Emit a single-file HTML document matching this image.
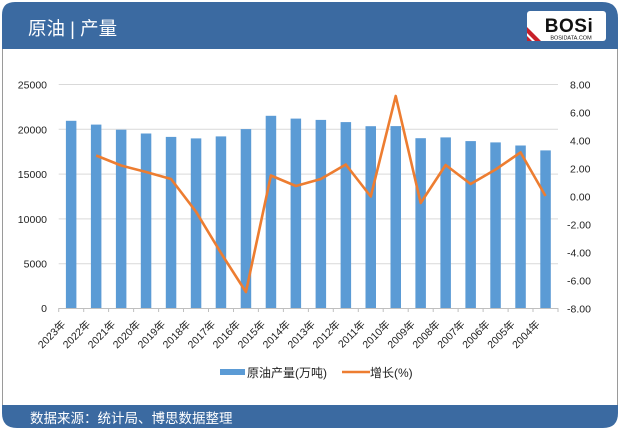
<!DOCTYPE html>
<html><head><meta charset="utf-8"><style>
html,body{margin:0;padding:0;background:#fff;}
svg{display:block;}
text{font-family:"Liberation Sans","Noto Sans CJK SC",sans-serif;}
</style></head><body>
<svg width="621" height="434" viewBox="0 0 621 434" xmlns="http://www.w3.org/2000/svg">
<rect x="0" y="0" width="621" height="434" fill="#fff"/>
<!-- content border -->
<line x1="2.5" y1="45" x2="2.5" y2="410" stroke="#9a9a9a" stroke-width="1"/>
<line x1="617.5" y1="45" x2="617.5" y2="410" stroke="#9a9a9a" stroke-width="1"/>
<!-- header -->
<path d="M2,49 L2,15 Q2,2 15,2 L602,2 Q618,2 618,18 L618,49 Z" fill="#3b6aa1"/>
<text x="28" y="35" font-size="18.5" fill="#fff">原油 | 产量</text>
<!-- logo -->
<rect x="527" y="11" width="79" height="30" rx="3" fill="#fff"/>
<polygon points="527,27 527,41 541,41" fill="#c8202a"/>
<polygon points="527,33 527,41 535,41" fill="#fff"/>
<polygon points="527,36 527,41 532,41" fill="#c8202a"/>
<text x="569" y="32" font-size="19" font-weight="bold" fill="#111" text-anchor="middle" letter-spacing="0.5" font-family="Liberation Sans">BOSi</text>
<text x="571" y="39.5" font-size="5.5" fill="#111" text-anchor="middle" font-family="Liberation Sans">BOSIDATA.COM</text>
<!-- footer -->
<path d="M2,405 L618,405 L618,413 Q618,428 603,428 L17,428 Q2,428 2,413 Z" fill="#3b6aa1"/>
<text x="30" y="423" font-size="13.5" fill="#fff">数据来源：统计局、博思数据整理</text>
<!-- gridlines -->
<g stroke="#d9d9d9" stroke-width="1">
<line x1="58.7" y1="84.5" x2="558" y2="84.5"/>
<line x1="58.7" y1="129.3" x2="558" y2="129.3"/>
<line x1="58.7" y1="174.1" x2="558" y2="174.1"/>
<line x1="58.7" y1="218.9" x2="558" y2="218.9"/>
<line x1="58.7" y1="263.7" x2="558" y2="263.7"/>
</g>
<!-- bars -->
<g fill="#5b9bd5">
<rect x="65.9" y="120.8" width="10.5" height="187.2"/>
<rect x="90.9" y="124.6" width="10.5" height="183.4"/>
<rect x="115.9" y="129.7" width="10.5" height="178.3"/>
<rect x="140.8" y="133.5" width="10.5" height="174.5"/>
<rect x="165.8" y="136.9" width="10.5" height="171.1"/>
<rect x="190.8" y="138.4" width="10.5" height="169.6"/>
<rect x="215.7" y="136.4" width="10.5" height="171.6"/>
<rect x="240.7" y="129.1" width="10.5" height="178.9"/>
<rect x="265.7" y="115.8" width="10.5" height="192.2"/>
<rect x="290.6" y="118.6" width="10.5" height="189.4"/>
<rect x="315.6" y="119.9" width="10.5" height="188.1"/>
<rect x="340.6" y="122.1" width="10.5" height="185.9"/>
<rect x="365.5" y="126.2" width="10.5" height="181.8"/>
<rect x="390.5" y="126.1" width="10.5" height="181.9"/>
<rect x="415.4" y="138.2" width="10.5" height="169.8"/>
<rect x="440.4" y="137.4" width="10.5" height="170.6"/>
<rect x="465.4" y="141.1" width="10.5" height="166.9"/>
<rect x="490.3" y="142.4" width="10.5" height="165.6"/>
<rect x="515.3" y="145.5" width="10.5" height="162.5"/>
<rect x="540.3" y="150.4" width="10.5" height="157.6"/>
</g>
<!-- x axis -->
<g stroke="#bfbfbf" stroke-width="1">
<line x1="58.7" y1="308.5" x2="558" y2="308.5"/>
<line x1="58.7" y1="308" x2="58.7" y2="312"/>
<line x1="83.7" y1="308" x2="83.7" y2="312"/>
<line x1="108.6" y1="308" x2="108.6" y2="312"/>
<line x1="133.6" y1="308" x2="133.6" y2="312"/>
<line x1="158.6" y1="308" x2="158.6" y2="312"/>
<line x1="183.5" y1="308" x2="183.5" y2="312"/>
<line x1="208.5" y1="308" x2="208.5" y2="312"/>
<line x1="233.5" y1="308" x2="233.5" y2="312"/>
<line x1="258.4" y1="308" x2="258.4" y2="312"/>
<line x1="283.4" y1="308" x2="283.4" y2="312"/>
<line x1="308.4" y1="308" x2="308.4" y2="312"/>
<line x1="333.3" y1="308" x2="333.3" y2="312"/>
<line x1="358.3" y1="308" x2="358.3" y2="312"/>
<line x1="383.2" y1="308" x2="383.2" y2="312"/>
<line x1="408.2" y1="308" x2="408.2" y2="312"/>
<line x1="433.2" y1="308" x2="433.2" y2="312"/>
<line x1="458.1" y1="308" x2="458.1" y2="312"/>
<line x1="483.1" y1="308" x2="483.1" y2="312"/>
<line x1="508.1" y1="308" x2="508.1" y2="312"/>
<line x1="533.0" y1="308" x2="533.0" y2="312"/>
<line x1="558.0" y1="308" x2="558.0" y2="312"/>
</g>
<!-- line series -->
<polyline fill="none" stroke="#ed7d31" stroke-width="2.6" stroke-linejoin="round" points="96.15,155.5 121.11,165.5 146.08,172 171.04,179 196.01,211.7 220.97,253 245.94,292 270.90,175.5 295.87,186 320.83,179 345.80,164.5 370.76,196.5 395.73,96 420.69,203 445.66,165 470.62,184 495.59,169.5 520.55,152.4 545.52,196"/>
<!-- left axis labels -->
<g font-size="10.5" fill="#222" text-anchor="end">
<text x="47" y="88.5">25000</text>
<text x="47" y="133.3">20000</text>
<text x="47" y="178.1">15000</text>
<text x="47" y="222.9">10000</text>
<text x="47" y="267.7">5000</text>
<text x="47" y="312">0</text>
</g>
<!-- right axis labels -->
<g font-size="10.5" fill="#222">
<text x="570" y="88.5">8.00</text>
<text x="570" y="116.5">6.00</text>
<text x="570" y="144.5">4.00</text>
<text x="570" y="172.5">2.00</text>
<text x="570" y="200.5">0.00</text>
<text x="567" y="228.5">-2.00</text>
<text x="567" y="256.5">-4.00</text>
<text x="567" y="284.5">-6.00</text>
<text x="567" y="312.5">-8.00</text>
</g>
<!-- x labels -->
<g font-size="10.5" fill="#222" text-anchor="end">
<text transform="translate(66.2,325) rotate(-45)">2023年</text>
<text transform="translate(91.1,325) rotate(-45)">2022年</text>
<text transform="translate(116.1,325) rotate(-45)">2021年</text>
<text transform="translate(141.1,325) rotate(-45)">2020年</text>
<text transform="translate(166.0,325) rotate(-45)">2019年</text>
<text transform="translate(191.0,325) rotate(-45)">2018年</text>
<text transform="translate(216.0,325) rotate(-45)">2017年</text>
<text transform="translate(240.9,325) rotate(-45)">2016年</text>
<text transform="translate(265.9,325) rotate(-45)">2015年</text>
<text transform="translate(290.9,325) rotate(-45)">2014年</text>
<text transform="translate(315.8,325) rotate(-45)">2013年</text>
<text transform="translate(340.8,325) rotate(-45)">2012年</text>
<text transform="translate(365.8,325) rotate(-45)">2011年</text>
<text transform="translate(390.7,325) rotate(-45)">2010年</text>
<text transform="translate(415.7,325) rotate(-45)">2009年</text>
<text transform="translate(440.7,325) rotate(-45)">2008年</text>
<text transform="translate(465.6,325) rotate(-45)">2007年</text>
<text transform="translate(490.6,325) rotate(-45)">2006年</text>
<text transform="translate(515.6,325) rotate(-45)">2005年</text>
<text transform="translate(540.5,325) rotate(-45)">2004年</text>
</g>
<!-- legend -->
<rect x="220" y="369" width="25" height="6" fill="#5b9bd5"/>
<text x="247" y="377" font-size="12" fill="#222">原油产量(万吨)</text>
<line x1="342" y1="372" x2="370" y2="372" stroke="#ed7d31" stroke-width="2.6"/>
<text x="370" y="377" font-size="12" fill="#222">增长(%)</text>
</svg>
</body></html>
